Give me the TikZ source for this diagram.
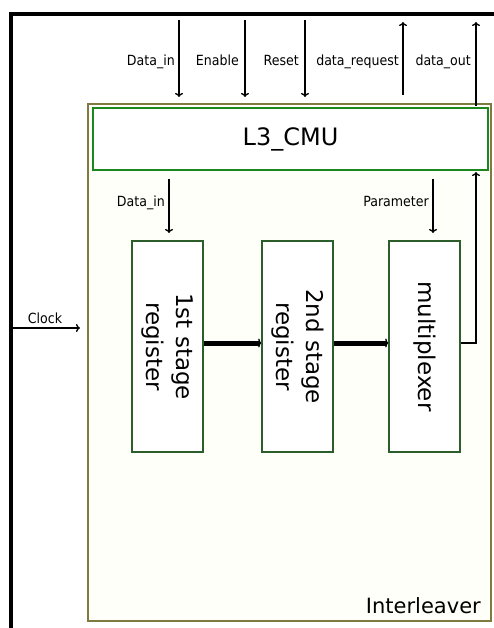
\documentclass[tikz,border=0pt]{standalone}
\usepackage{fontspec}
\setmainfont{DejaVu Sans}
\newfontfamily\condfont{DejaVu Sans Condensed}
\usetikzlibrary{arrows.meta}
\definecolor{olivebox}{HTML}{7E7A40}
\definecolor{creamfill}{HTML}{FFFFFA}
\definecolor{cmugreen}{HTML}{1E861E}
\definecolor{stagegreen}{HTML}{2C5E2C}
\begin{document}
\begin{tikzpicture}[x=1pt,y=-1pt,
  sig/.style={draw=black, line width=1.3pt, -{To[length=4pt,width=8pt]}},
  bus/.style={draw=black, line width=5pt, -{To[length=3pt,width=9pt,line width=1.3pt]}},
  lbl/.style={font=\condfont\fontsize{14}{16}\selectfont, anchor=base east, inner sep=0pt},
  stagebox/.style={draw=stagegreen, line width=1.6pt, fill=white, minimum width=71pt, minimum height=211pt, inner sep=0pt},
  rottext/.style={rotate=-90, align=center, font=\fontsize{23}{30}\selectfont, inner sep=0pt}
]
\useasboundingbox (0,0) rectangle (494,628);
\fill[white] (0,0) rectangle (494,628);
% outer black frame
\draw[black, line width=4pt] (11,628) -- (11,14) -- (494,14);
% interleaver box
\node[draw=olivebox, line width=1.5pt, fill=creamfill, minimum width=403pt, minimum height=517pt, inner sep=0pt] (inter) at (289.5,362.5) {};
\node[font=\fontsize{21}{24}\selectfont, anchor=base east, inner sep=0pt] (interlbl) at (481,613) {Interleaver};
% L3_CMU
\node[draw=cmugreen, line width=2.6pt, fill=white, minimum width=395pt, minimum height=62pt, inner sep=0pt, font=\fontsize{24}{28}\selectfont] (cmu) at (290.5,139) {L3\_CMU};
% stage boxes
\node[stagebox] (r1) at (167.5,346.5) {};
\node[rottext] (r1t) at (r1.center) {1st stage\\register};
\node[stagebox] (r2) at (297.5,346.5) {};
\node[rottext] (r2t) at (r2.center) {2nd stage\\register};
\node[stagebox] (mux) at (424.5,346.5) {};
\node[rottext] (muxt) at (mux.center) {multiplexer};
% top signals
\coordinate (dinA) at (179,20);  \coordinate (dinB) at (179,97);
\coordinate (enA) at (245,20);   \coordinate (enB) at (245,97);
\coordinate (rsA) at (305,20);   \coordinate (rsB) at (305,97);
\coordinate (drA) at (403,95);   \coordinate (drB) at (403,22);
\coordinate (doA) at (476,106);  \coordinate (doB) at (476,22);
\draw[sig] (dinA) -- (dinB);
\draw[sig] (enA) -- (enB);
\draw[sig] (rsA) -- (rsB);
\draw[sig] (drA) -- (drB);
\draw[sig] (doA) -- (doB);
\node[lbl] (ldin) at (175,66) {Data\_in};
\node[lbl] (len) at (239,66) {Enable};
\node[lbl] (lrs) at (299,66) {Reset};
\node[lbl] (ldr) at (399,66) {data\_request};
\node[lbl] (ldo) at (471,66) {data\_out};
% inner signals
\coordinate (idinA) at (169,179); \coordinate (idinB) at (169,233);
\coordinate (parA) at (433,179);  \coordinate (parB) at (433,233);
\draw[sig] (idinA) -- (idinB);
\draw[sig] (parA) -- (parB);
\node[lbl] (lidin) at (165,207) {Data\_in};
\node[lbl] (lpar) at (429,207) {Parameter};
% data path
\draw[bus] ([yshift=3.5pt]r1.east) -- ([yshift=3.5pt]r2.west);
\draw[bus] ([yshift=3.5pt]r2.east) -- ([yshift=3.5pt]mux.west);
\coordinate (dout) at (476,172);
\draw[sig] ([yshift=3.5pt]mux.east) -| (dout);
% clock
\coordinate (clkA) at (12,328); \coordinate (clkB) at (80,328);
\draw[sig] (clkA) -- (clkB);
\node[lbl, anchor=base] (lclk) at (45,323) {Clock};
\end{tikzpicture}
\end{document}
